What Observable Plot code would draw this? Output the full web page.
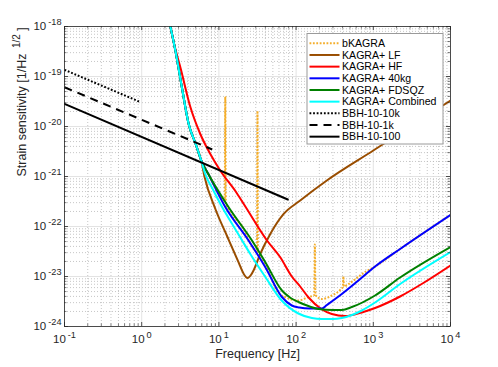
<!DOCTYPE html>
<html><head><meta charset="utf-8">
<script src="https://cdn.jsdelivr.net/npm/d3@7"></script>
<script src="https://cdn.jsdelivr.net/npm/@observablehq/plot@0.6"></script>
<style>
body{margin:0;background:#fff;}
#wrap{position:relative;width:498px;height:367px;font-family:"Liberation Sans",Arial,Helvetica,sans-serif;}
#wrap svg{display:block;}
#legend{position:absolute;left:0;top:0;pointer-events:none;}
</style></head><body><div id="wrap"></div>
<script>
// ---- data (frequency [Hz], strain [1/sqrt(Hz)]) ----
const bkagraF = [2.35, 2.73, 3.3, 4.06, 5.0, 5.9, 7.3, 11.9, 12.1, 12.3, 20, 31.1, 31.6, 32.1, 40, 59, 72, 107, 145, 172, 175, 178, 216, 290, 372, 404, 410, 416, 476, 783, 1054, 2223, 10000];
const bkagraH = [1e-18, 3.31e-19, 6.31e-20, 1.12e-20, 4.47e-21, 2.09e-21, 1.12e-21, 3.31e-22, 3.98e-20, 2.82e-22, 1.0e-22, 3.16e-23, 2.04e-20, 3.02e-23, 1.78e-23, 4.68e-24, 3.89e-24, 3.31e-24, 3.89e-24, 4.27e-24, 4.37e-23, 4.27e-24, 3.55e-24, 4.17e-24, 5.37e-24, 6.31e-24, 1.0e-23, 6.31e-24, 7.08e-24, 1.23e-23, 1.58e-23, 3.55e-23, 1.70e-22];

const lfF = [2.35, 2.73, 3.3, 4.06, 5.0, 5.9, 6.5, 9, 13, 18, 21, 23.5, 26, 28.1, 34.3, 46.3, 69, 113, 250, 1000, 10000];
const lfH = [1e-18, 3.31e-19, 6.31e-20, 1.12e-20, 4.47e-21, 2.09e-21, 1.0e-21, 2.24e-22, 6.03e-23, 1.91e-23, 1.12e-23, 9.33e-24, 1.07e-23, 1.32e-23, 2.82e-23, 7.08e-23, 1.78e-22, 3.31e-22, 8.32e-22, 3.31e-21, 3.31e-20];

const hfF = [2.35, 2.73, 3.16, 4.27, 5.74, 7.74, 10.4, 17, 22, 42, 62, 88, 113, 145, 216, 290, 431, 710, 1054, 2223, 4446, 10000];
const hfH = [1e-18, 3.55e-19, 1.55e-19, 2.45e-20, 7.08e-21, 2.82e-21, 1.32e-21, 4.68e-22, 2.51e-22, 5.25e-23, 2.45e-23, 1.0e-23, 6.31e-24, 3.80e-24, 2.19e-24, 1.78e-24, 1.62e-24, 1.91e-24, 2.34e-24, 3.98e-24, 7.41e-24, 1.66e-23];

const kg40F = [2.35, 2.73, 3.3, 4.06, 5.0, 5.9, 7.3, 12.1, 24.2, 39.8, 65.5, 88, 110, 150, 216, 250, 391, 641, 1054, 2223, 10000];
const kg40H = [1e-18, 3.31e-19, 6.31e-20, 1.12e-20, 4.47e-21, 2.09e-21, 1.12e-21, 2.45e-22, 5.25e-23, 1.55e-23, 3.89e-24, 2.63e-24, 2.40e-24, 2.29e-24, 2.29e-24, 2.69e-24, 4.47e-24, 8.32e-24, 1.58e-23, 3.55e-23, 1.70e-22];

const fdsqzF = [2.35, 2.73, 3.3, 4.06, 5.0, 5.9, 7.3, 13.3, 26.8, 39.8, 65.5, 85, 107, 150, 195, 300, 391, 527, 1054, 2223, 10000];
const fdsqzH = [1e-18, 3.31e-19, 6.31e-20, 1.12e-20, 4.47e-21, 2.09e-21, 1.12e-21, 2.45e-22, 5.25e-23, 1.95e-23, 5.25e-24, 3.72e-24, 3.09e-24, 2.51e-24, 2.24e-24, 2.14e-24, 2.14e-24, 2.45e-24, 4.17e-24, 9.55e-24, 3.89e-23];

const combF = [2.35, 2.73, 3.3, 4.06, 5.0, 5.9, 6.65, 8.5, 11, 15, 20, 25.5, 40, 65, 107, 160, 216, 300, 391, 550, 710, 1054, 2223, 10000];
const combH = [1e-18, 3.31e-19, 6.31e-20, 1.12e-20, 4.47e-21, 2.09e-21, 1.12e-21, 5.25e-22, 2.45e-22, 1.10e-22, 5.25e-23, 2.82e-23, 9.77e-24, 3.31e-24, 1.82e-24, 1.48e-24, 1.41e-24, 1.41e-24, 1.48e-24, 1.74e-24, 2.09e-24, 3.02e-24, 7.08e-24, 3.09e-23];

const bbh10kF = [0.1, 0.97];
const bbh10kH = [1.36e-19, 3.06e-20];
const bbh1kF = [0.1, 8.2];
const bbh1kH = [6.1e-20, 3.47e-21];
const bbh100F = [0.1, 78];
const bbh100H = [2.84e-20, 3.47e-22];

const seriesNames = ["bKAGRA","KAGRA+ LF","KAGRA+ HF","KAGRA+ 40kg","KAGRA+ FDSQZ","KAGRA+ Combined","BBH-10-10k","BBH-10-1k","BBH-10-100"];
const xTickValues = [0.1, 1, 10, 100, 1000, 10000];
const yTickValues = [1e-24, 1e-23, 1e-22, 1e-21, 1e-20, 1e-19, 1e-18];

// ---- styles ----
const styles = [
  {f: bkagraF, h: bkagraH, color: "#f4ae2c", dash: "1.8,1.6"},
  {f: lfF, h: lfH, color: "#994d00", dash: null},
  {f: hfF, h: hfH, color: "#ff0000", dash: null},
  {f: kg40F, h: kg40H, color: "#0000ff", dash: null},
  {f: fdsqzF, h: fdsqzH, color: "#008000", dash: null},
  {f: combF, h: combH, color: "#00ffff", dash: null},
  {f: bbh10kF, h: bbh10kH, color: "#000000", dash: "1.8,1.8"},
  {f: bbh1kF, h: bbh1kH, color: "#000000", dash: "8,6"},
  {f: bbh100F, h: bbh100H, color: "#000000", dash: null}
];

const W = 498, H = 367, mL = 64, mR = 48, mT = 26, mB = 41;
const pW = W - mL - mR, pH = H - mT - mB;
const near = (a, b) => Math.abs(a - b) / b < 1e-6;
const xMinor = d3.scaleLog().domain([0.1, 1e4]).ticks().filter(v => !xTickValues.some(m => near(v, m)));
const yMinor = d3.scaleLog().domain([1e-24, 1e-18]).ticks().filter(v => !yTickValues.some(m => near(v, m)));
const expFmt = d => `10^{${Math.round(Math.log10(d))}}`;
const axisColor = "#262626";

const lineMarks = styles.map(s => Plot.line(s.f.map((f, i) => ({f, h: s.h[i]})), {
  x: "f", y: "h", stroke: s.color, strokeWidth: 2,
  strokeDasharray: s.dash || undefined,
  strokeLinecap: s.dash ? "butt" : "round",
  curve: s.f.length > 2 ? "monotone-x" : "linear", clip: true
}));

const chart = Plot.plot({
  width: W, height: H,
  marginLeft: mL, marginRight: mR, marginTop: mT, marginBottom: mB,
  x: {type: "log", domain: [0.1, 1e4], label: null},
  y: {type: "log", domain: [1e-24, 1e-18], label: null},
  style: {fontFamily: "'Liberation Sans', Arial, sans-serif", color: axisColor, background: "#fff", overflow: "visible"},
  marks: [
    Plot.gridX(xMinor, {stroke: "#b8b8b8", strokeOpacity: 1, strokeWidth: 0.8, strokeDasharray: "1,2"}),
    Plot.gridY(yMinor, {stroke: "#b8b8b8", strokeOpacity: 1, strokeWidth: 0.8, strokeDasharray: "1,2"}),
    Plot.gridX(xTickValues, {stroke: "#dcdcdc", strokeOpacity: 1, strokeWidth: 0.8}),
    Plot.gridY(yTickValues, {stroke: "#dcdcdc", strokeOpacity: 1, strokeWidth: 0.8}),
    ...lineMarks,
    Plot.frame({stroke: axisColor, strokeWidth: 0.8}),
    Plot.tickX(xTickValues, {x: d => d, insetTop: pH - 4, stroke: axisColor, strokeWidth: 0.8}),
    Plot.tickX(xTickValues, {x: d => d, insetBottom: pH - 4, stroke: axisColor, strokeWidth: 0.8}),
    Plot.tickX(xMinor, {x: d => d, insetTop: pH - 2.5, stroke: axisColor, strokeWidth: 0.6}),
    Plot.tickX(xMinor, {x: d => d, insetBottom: pH - 2.5, stroke: axisColor, strokeWidth: 0.6}),
    Plot.tickY(yTickValues, {y: d => d, insetRight: pW - 4, stroke: axisColor, strokeWidth: 0.8}),
    Plot.tickY(yTickValues, {y: d => d, insetLeft: pW - 4, stroke: axisColor, strokeWidth: 0.8}),
    Plot.tickY(yMinor, {y: d => d, insetRight: pW - 2.5, stroke: axisColor, strokeWidth: 0.6}),
    Plot.tickY(yMinor, {y: d => d, insetLeft: pW - 2.5, stroke: axisColor, strokeWidth: 0.6}),
    Plot.axisX(xTickValues, {anchor: "bottom", tickSize: 0, tickPadding: 8, tickFormat: expFmt, fontSize: 11.5, label: null}),
    Plot.axisY(yTickValues, {anchor: "left", tickSize: 0, tickPadding: 3, tickFormat: expFmt, fontSize: 11.5, label: null}),
    Plot.text(["Frequency [Hz]"], {frameAnchor: "bottom", dy: 31, fontSize: 12.5, fill: axisColor}),
    Plot.text(["Strain sensitivity [1/Hz ^{1/2} ]"], {frameAnchor: "left", dx: -43, rotate: -90, fontSize: 12.5, fill: axisColor})
  ]
});

// superscripts (10^{n}, Hz^{1/2})
d3.select(chart).selectAll("text").each(function () {
  const t = this.textContent;
  const m = t.match(/^(.*?)\^\{(.*?)\}(.*)$/);
  if (!m) return;
  const sel = d3.select(this);
  sel.text(null);
  sel.append("tspan").text(m[1]);
  sel.append("tspan").attr("dx", "2").attr("dy", "-0.55em").attr("font-size", "0.8em").text(m[2]);
  if (m[3]) sel.append("tspan").attr("dy", "0.44em").text(m[3]);
});

const wrap = document.getElementById("wrap");
wrap.appendChild(chart);

// legend (overlay, inside the axes box)
const leg = d3.select(wrap).append("svg").attr("id", "legend").attr("width", W).attr("height", H);
const lx = 307, ly = 33.5, lw = 136, lh = 110.5;
leg.append("rect").attr("x", lx).attr("y", ly).attr("width", lw).attr("height", lh)
  .attr("fill", "#fff").attr("stroke", "#9a9a9a").attr("stroke-width", 1);
seriesNames.forEach((name, i) => {
  const y = ly + 9.8 + 11.67 * i;
  const s = styles[i];
  leg.append("line").attr("x1", lx + 2.5).attr("x2", lx + 32.5).attr("y1", y).attr("y2", y)
    .attr("stroke", s.color).attr("stroke-width", 2).attr("stroke-dasharray", s.dash);
  leg.append("text").attr("x", lx + 35).attr("y", y).attr("dy", "0.35em")
    .attr("font-size", 10.6).attr("fill", "#000")
    .attr("font-family", "'Liberation Sans', Arial, sans-serif").text(name);
});
</script></body></html>
